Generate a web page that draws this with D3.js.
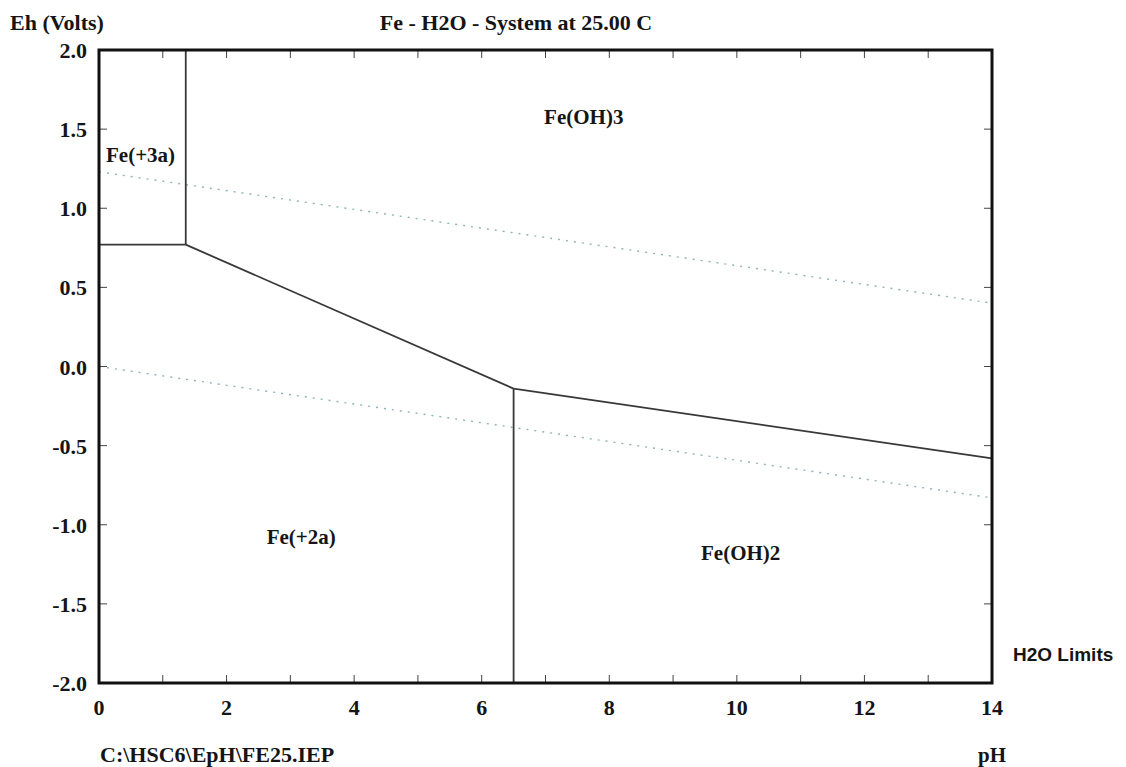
<!DOCTYPE html>
<html>
<head>
<meta charset="utf-8">
<script src="https://cdn.jsdelivr.net/npm/d3@7/dist/d3.min.js"></script>
<style>
  html, body { margin: 0; padding: 0; background: #fff; }
  svg { display: block; }
  .serif { font-family: "Liberation Serif", "Times New Roman", serif; font-weight: bold; fill: #151515; }
  .sans { font-family: "Liberation Sans", Arial, sans-serif; font-weight: bold; fill: #151515; }
</style>
</head>
<body>
<svg id="chart" width="1126" height="767"></svg>
<script>
// Pourbaix (Eh-pH) diagram for Fe-H2O at 25 C

// Axis tick values
const phTicks = [0, 2, 4, 6, 8, 10, 12, 14];
const phMinorTicks = d3.range(0, 15, 1);
const ehTicks = [2.0, 1.5, 1.0, 0.5, 0.0, -0.5, -1.0, -1.5, -2.0];

// Stability-field boundaries, [pH, Eh] pairs
const fe3_fe2 = [[0, 0.77], [1.36, 0.77]];
const fe3_feoh3 = [[1.36, 2.0], [1.36, 0.77]];
const fe2_feoh3 = [[1.36, 0.77], [6.5, -0.14]];
const feoh2_feoh3 = [[6.5, -0.14], [14, -0.58]];
const fe2_feoh2 = [[6.5, -0.14], [6.5, -2.0]];

// Water stability limits (O2/H2O and H2O/H2)
const waterUpper = [[0, 1.23], [14, 0.40]];
const waterLower = [[0, 0.0], [14, -0.83]];

// Species field labels
const fieldNames = ["Fe(+3a)", "Fe(OH)3", "Fe(+2a)", "Fe(OH)2"];
const fieldPH = [0.11, 7.6, 3.17, 10.06];
const fieldEh = [1.29, 1.53, -1.12, -1.22];
const fieldAnchor = ["start", "middle", "middle", "middle"];

const svg = d3.select("#chart");
const x = d3.scaleLinear().domain([0, 14]).range([99, 992]);
const y = d3.scaleLinear().domain([-2, 2]).range([683, 50]);

const line = d3.line().x(d => x(d[0])).y(d => y(d[1]));

// Water limit dotted lines
[waterUpper, waterLower].forEach(seg => {
  svg.append("path")
    .attr("d", line(seg))
    .attr("fill", "none")
    .attr("stroke", "#78a8a8")
    .attr("stroke-width", 1.4)
    .attr("stroke-dasharray", "2,6")
    .attr("opacity", 0.85);
});

// Boundaries
[fe3_fe2, fe3_feoh3, fe2_feoh3, feoh2_feoh3, fe2_feoh2].forEach(seg => {
  svg.append("path")
    .attr("d", line(seg))
    .attr("fill", "none")
    .attr("stroke", "#383838")
    .attr("stroke-width", 1.8);
});

// Inward ticks on all four sides
const tickLen = 8;
const tg = svg.append("g").attr("stroke", "#444").attr("stroke-width", 1);
phMinorTicks.forEach(v => {
  tg.append("line").attr("x1", x(v)).attr("x2", x(v)).attr("y1", y(2)).attr("y2", y(2) + tickLen);
  tg.append("line").attr("x1", x(v)).attr("x2", x(v)).attr("y1", y(-2)).attr("y2", y(-2) - tickLen);
});
ehTicks.forEach(v => {
  tg.append("line").attr("x1", x(0)).attr("x2", x(0) + tickLen).attr("y1", y(v)).attr("y2", y(v));
  tg.append("line").attr("x1", x(14)).attr("x2", x(14) - tickLen).attr("y1", y(v)).attr("y2", y(v));
});

// Frame
svg.append("rect")
  .attr("x", x(0)).attr("y", y(2))
  .attr("width", x(14) - x(0)).attr("height", y(-2) - y(2))
  .attr("fill", "none").attr("stroke", "#111").attr("stroke-width", 3);

// Tick labels
svg.append("g").selectAll("text").data(ehTicks).join("text")
  .attr("class", "serif")
  .attr("x", 87).attr("y", d => y(d) + 8)
  .attr("text-anchor", "end")
  .attr("font-size", 22)
  .text(d => d3.format(".1f")(d).replace("\u2212", "-"));

svg.append("g").selectAll("text").data(phTicks).join("text")
  .attr("class", "serif")
  .attr("x", d => x(d)).attr("y", 715)
  .attr("text-anchor", "middle")
  .attr("font-size", 22)
  .text(d => d);

// Field labels
svg.append("g").selectAll("text").data(fieldNames).join("text")
  .attr("class", "serif")
  .attr("x", (d, i) => x(fieldPH[i]))
  .attr("y", (d, i) => y(fieldEh[i]))
  .attr("text-anchor", (d, i) => fieldAnchor[i])
  .attr("font-size", 21)
  .text(d => d);

// Titles and annotations
svg.append("text").attr("class", "serif").attr("x", 10).attr("y", 30)
  .attr("font-size", 22).text("Eh (Volts)");
svg.append("text").attr("class", "serif").attr("x", 516).attr("y", 30)
  .attr("text-anchor", "middle").attr("font-size", 22).text("Fe - H2O - System at 25.00 C");
svg.append("text").attr("class", "sans").attr("x", 1013).attr("y", 661)
  .attr("font-size", 19).text("H2O Limits");
svg.append("text").attr("class", "serif").attr("x", 100).attr("y", 762)
  .attr("font-size", 22).text("C:\\HSC6\\EpH\\FE25.IEP");
svg.append("text").attr("class", "serif").attr("x", 992).attr("y", 762)
  .attr("text-anchor", "middle").attr("font-size", 21).text("pH");
</script>
</body>
</html>
